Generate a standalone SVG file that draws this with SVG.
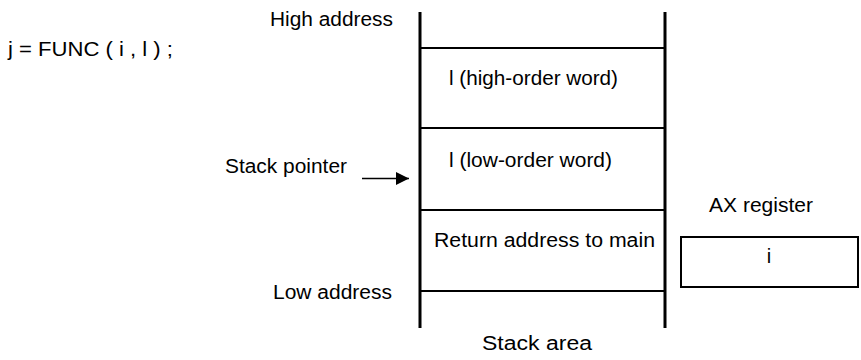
<svg xmlns="http://www.w3.org/2000/svg" width="861" height="360" viewBox="0 0 861 360">
<style>
text{font-family:"Liberation Sans",Arial,sans-serif;font-size:20px;fill:#000}
.v{stroke:#000;stroke-width:3;fill:none}
.h{stroke:#000;stroke-width:2;fill:none}
.c{stroke:#000;stroke-width:1.6;fill:none}
</style>
<defs>
<marker id="ah" viewBox="0 0 10 10" refX="10" refY="5" markerWidth="14" markerHeight="13" markerUnits="userSpaceOnUse" orient="auto">
<path d="M0,0 L10,5 L0,10 Z" fill="#000"/>
</marker>
</defs>
<rect width="861" height="360" fill="#fff"/>
<g id="call"><text x="8" y="56" textLength="165" lengthAdjust="spacingAndGlyphs">j = FUNC ( i , l ) ;</text></g>
<g id="labels">
<text x="270" y="25.5" textLength="123" lengthAdjust="spacingAndGlyphs">High address</text>
<text x="225" y="173" textLength="122" lengthAdjust="spacingAndGlyphs">Stack pointer</text>
<text x="273" y="299" textLength="119" lengthAdjust="spacingAndGlyphs">Low address</text>
<text x="482" y="350" textLength="110" lengthAdjust="spacingAndGlyphs">Stack area</text>
</g>
<g id="stack">
<line class="v" x1="420" y1="12" x2="420" y2="328"/>
<line class="v" x1="665" y1="12" x2="665" y2="328"/>
<line class="h" x1="420" y1="48" x2="665" y2="48"/>
<line class="h" x1="420" y1="128" x2="665" y2="128"/>
<line class="h" x1="420" y1="210" x2="665" y2="210"/>
<line class="h" x1="420" y1="291" x2="665" y2="291"/>
</g>
<g id="slot-high"><text x="449" y="85" textLength="169" lengthAdjust="spacingAndGlyphs">l (high-order word)</text></g>
<g id="slot-low"><text x="449" y="167" textLength="163" lengthAdjust="spacingAndGlyphs">l (low-order word)</text></g>
<g id="slot-ret"><text x="434" y="246.5" textLength="221" lengthAdjust="spacingAndGlyphs">Return address to main</text></g>
<g id="ax-register">
<text x="709" y="212" textLength="104" lengthAdjust="spacingAndGlyphs">AX register</text>
<rect class="h" x="681" y="237" width="177" height="50"/>
<text x="769" y="263" text-anchor="middle">i</text>
</g>
<g id="connectors">
<line class="c" x1="362" y1="178.5" x2="409" y2="178.5" marker-end="url(#ah)"/>
</g>
</svg>
